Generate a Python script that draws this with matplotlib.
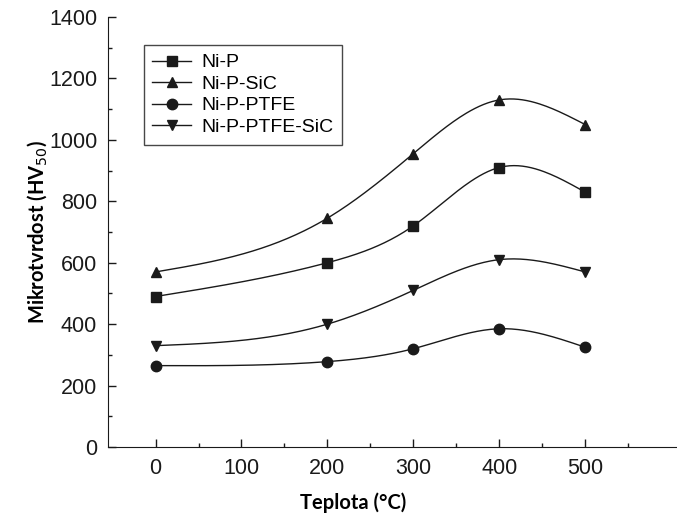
import numpy as np
import matplotlib.pyplot as plt
from matplotlib.ticker import FixedLocator, MultipleLocator

temps = [0, 200, 300, 400, 500]
ni_p = [490, 600, 720, 910, 830]
ni_p_sic = [570, 745, 955, 1130, 1050]
ni_p_ptfe = [265, 278, 320, 385, 325]
ni_p_ptfe_sic = [330, 400, 510, 610, 570]

labels = ["Ni-P", "Ni-P-SiC", "Ni-P-PTFE", "Ni-P-PTFE-SiC"]
markers = ["s", "^", "o", "v"]
xticks = [0, 100, 200, 300, 400, 500]


def spline(x, y, n=200):
    # natural cubic spline through the points
    x = np.asarray(x, float)
    y = np.asarray(y, float)
    k = len(x)
    h = np.diff(x)
    A = np.zeros((k, k))
    b = np.zeros(k)
    A[0, 0] = A[-1, -1] = 1
    for i in range(1, k - 1):
        A[i, i - 1] = h[i - 1]
        A[i, i] = 2 * (h[i - 1] + h[i])
        A[i, i + 1] = h[i]
        b[i] = 6 * ((y[i + 1] - y[i]) / h[i] - (y[i] - y[i - 1]) / h[i - 1])
    M = np.linalg.solve(A, b)
    xs = np.linspace(x[0], x[-1], n)
    ys = np.empty_like(xs)
    for j, xv in enumerate(xs):
        i = min(np.searchsorted(x, xv, side="right") - 1, k - 2)
        t1 = x[i + 1] - xv
        t0 = xv - x[i]
        ys[j] = (M[i] * t1 ** 3 + M[i + 1] * t0 ** 3) / (6 * h[i]) \
            + (y[i] / h[i] - M[i] * h[i] / 6) * t1 \
            + (y[i + 1] / h[i] - M[i + 1] * h[i] / 6) * t0
    return xs, ys


plt.rcParams["font.family"] = ["Liberation Sans", "DejaVu Sans"]

fig = plt.figure(figsize=(6.77, 5.15), dpi=100)
ax = fig.add_axes([0.16, 0.132, 0.84, 0.835])

col = "#1a1a1a"
for ys, lab, m in zip([ni_p, ni_p_sic, ni_p_ptfe, ni_p_ptfe_sic], labels, markers):
    sx, sy = spline(temps, ys)
    ax.plot(sx, sy, color=col, lw=1.0)
    ax.plot(temps, ys, linestyle="none", marker=m, color=col, markersize=7.5)
    ax.plot([], [], color=col, lw=1.0, marker=m, markersize=7.5, label=lab)

ax.set_xlim(-55, 607)
ax.set_ylim(0, 1400)
ax.xaxis.set_major_locator(FixedLocator(xticks))
ax.xaxis.set_minor_locator(FixedLocator([50, 150, 250, 350, 450, 550]))
ax.yaxis.set_major_locator(MultipleLocator(200))
ax.yaxis.set_minor_locator(MultipleLocator(100))
ax.tick_params(which="both", direction="in", colors=col, labelsize=15.5, width=1)
ax.tick_params(which="major", length=6, pad=8)
ax.tick_params(which="minor", length=3)
for s in ["top", "right"]:
    ax.spines[s].set_visible(False)
for s in ["left", "bottom"]:
    ax.spines[s].set_color(col)

ax.set_xlabel("Teplota (°C)", fontsize=14.5, fontweight="bold", family=["Lato", "DejaVu Sans"])
ax.xaxis.set_label_coords(0.43, -0.105)
ax.set_ylabel("Mikrotvrdost (HV$_{50}$)", fontsize=14.5, fontweight="bold", family=["Lato", "DejaVu Sans"])
ax.yaxis.set_label_coords(-0.105, 0.5)

leg = ax.legend(loc="upper left", bbox_to_anchor=(0.062, 0.935), fontsize=14, frameon=True,
                fancybox=False, edgecolor=col, handlelength=2.0, labelspacing=0.2,
                borderpad=0.45, handletextpad=0.5, borderaxespad=0)
leg.get_frame().set_linewidth(1.0)

fig.savefig("out.png", dpi=100)
